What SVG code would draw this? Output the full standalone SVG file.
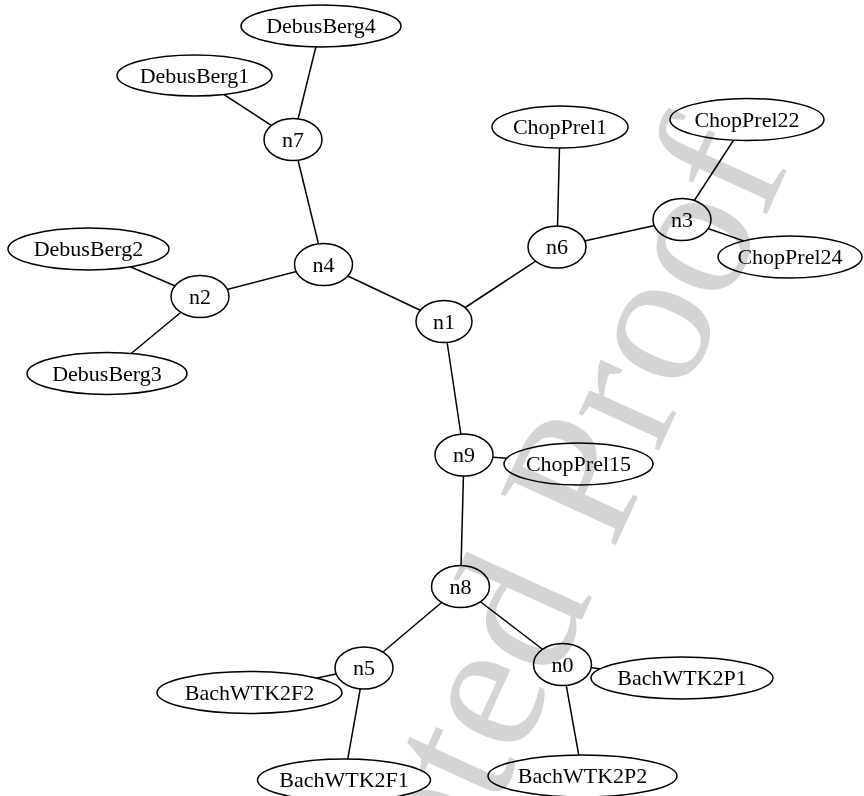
<svg xmlns="http://www.w3.org/2000/svg" width="864" height="796" viewBox="0 0 864 796">
<style>
.e{stroke:#000;stroke-width:1.5;fill:none}
.n ellipse{fill:#fff;stroke:#000;stroke-width:1.5}
.n text{font-family:"Liberation Serif","Times New Roman",serif;font-size:22px;fill:#000;text-anchor:middle}
.wm{font-family:"Liberation Serif","Times New Roman",serif;font-size:192px;fill:#d4d4d4;text-anchor:end;mix-blend-mode:multiply}
</style>
<rect width="864" height="796" fill="#fff"/>
<g id="edges">
<line class="e" x1="293" y1="139.5" x2="321" y2="26"/>
<line class="e" x1="293" y1="139.5" x2="194.5" y2="75.5"/>
<line class="e" x1="293" y1="139.5" x2="323.5" y2="264.5"/>
<line class="e" x1="323.5" y1="264.5" x2="200" y2="296.5"/>
<line class="e" x1="323.5" y1="264.5" x2="444" y2="321.5"/>
<line class="e" x1="200" y1="296.5" x2="88.5" y2="249"/>
<line class="e" x1="200" y1="296.5" x2="107" y2="373.5"/>
<line class="e" x1="444" y1="321.5" x2="557" y2="247"/>
<line class="e" x1="444" y1="321.5" x2="464" y2="455"/>
<line class="e" x1="557" y1="247" x2="560" y2="127"/>
<line class="e" x1="557" y1="247" x2="682" y2="219.5"/>
<line class="e" x1="682" y1="219.5" x2="747" y2="119.5"/>
<line class="e" x1="682" y1="219.5" x2="790" y2="257"/>
<line class="e" x1="464" y1="455" x2="578.5" y2="464"/>
<line class="e" x1="464" y1="455" x2="460.5" y2="586.5"/>
<line class="e" x1="460.5" y1="586.5" x2="364" y2="668"/>
<line class="e" x1="460.5" y1="586.5" x2="562.5" y2="664.5"/>
<line class="e" x1="364" y1="668" x2="249.5" y2="692.5"/>
<line class="e" x1="364" y1="668" x2="344" y2="780"/>
<line class="e" x1="562.5" y1="664.5" x2="682" y2="678"/>
<line class="e" x1="562.5" y1="664.5" x2="582.5" y2="776"/>
</g>
<g id="DebusBerg4" class="n"><ellipse cx="321" cy="26" rx="80" ry="21"/><text x="321" y="33">DebusBerg4</text></g>
<g id="DebusBerg1" class="n"><ellipse cx="194.5" cy="75.5" rx="77.5" ry="20.5"/><text x="194.5" y="82.5">DebusBerg1</text></g>
<g id="n7" class="n"><ellipse cx="293" cy="139.5" rx="29" ry="21"/><text x="293" y="146.5">n7</text></g>
<g id="DebusBerg2" class="n"><ellipse cx="88.5" cy="249" rx="80.5" ry="21"/><text x="88.5" y="256">DebusBerg2</text></g>
<g id="n4" class="n"><ellipse cx="323.5" cy="264.5" rx="29" ry="21"/><text x="323.5" y="271.5">n4</text></g>
<g id="n2" class="n"><ellipse cx="200" cy="296.5" rx="29" ry="21"/><text x="200" y="303.5">n2</text></g>
<g id="DebusBerg3" class="n"><ellipse cx="107" cy="373.5" rx="80" ry="21"/><text x="107" y="380.5">DebusBerg3</text></g>
<g id="n1" class="n"><ellipse cx="444" cy="321.5" rx="28" ry="21"/><text x="444" y="328.5">n1</text></g>
<g id="ChopPrel1" class="n"><ellipse cx="560" cy="127" rx="68" ry="21"/><text x="560" y="134">ChopPrel1</text></g>
<g id="ChopPrel22" class="n"><ellipse cx="747" cy="119.5" rx="77" ry="21"/><text x="747" y="126.5">ChopPrel22</text></g>
<g id="n6" class="n"><ellipse cx="557" cy="247" rx="29" ry="21"/><text x="557" y="254">n6</text></g>
<g id="n3" class="n"><ellipse cx="682" cy="219.5" rx="29" ry="21"/><text x="682" y="226.5">n3</text></g>
<g id="ChopPrel24" class="n"><ellipse cx="790" cy="257" rx="72" ry="21"/><text x="790" y="264">ChopPrel24</text></g>
<g id="n9" class="n"><ellipse cx="464" cy="455" rx="29" ry="21"/><text x="464" y="462">n9</text></g>
<g id="ChopPrel15" class="n"><ellipse cx="578.5" cy="464" rx="74.5" ry="21"/><text x="578.5" y="471">ChopPrel15</text></g>
<g id="n8" class="n"><ellipse cx="460.5" cy="586.5" rx="29" ry="21"/><text x="460.5" y="593.5">n8</text></g>
<g id="n5" class="n"><ellipse cx="364" cy="668" rx="29" ry="21"/><text x="364" y="675">n5</text></g>
<g id="n0" class="n"><ellipse cx="562.5" cy="664.5" rx="29" ry="21"/><text x="562.5" y="671.5">n0</text></g>
<g id="BachWTK2F2" class="n"><ellipse cx="249.5" cy="692.5" rx="92.5" ry="21"/><text x="249.5" y="699.5">BachWTK2F2</text></g>
<g id="BachWTK2P1" class="n"><ellipse cx="682" cy="678" rx="91" ry="21"/><text x="682" y="685">BachWTK2P1</text></g>
<g id="BachWTK2F1" class="n"><ellipse cx="344" cy="780" rx="86.5" ry="21"/><text x="344" y="787">BachWTK2F1</text></g>
<g id="BachWTK2P2" class="n"><ellipse cx="582.5" cy="776" rx="94.5" ry="21"/><text x="582.5" y="783">BachWTK2P2</text></g>
<text class="wm" x="790" y="163" transform="rotate(-65.5 790 163)">Accepted Proof</text>
</svg>
